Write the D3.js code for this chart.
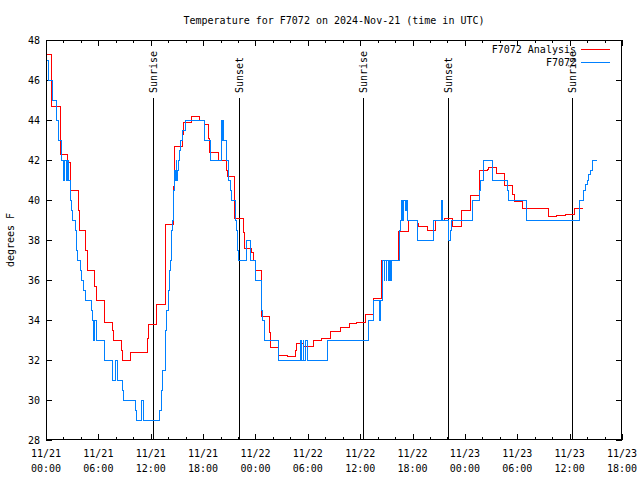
<!DOCTYPE html>
<html><head><meta charset="utf-8">
<script src="https://cdn.jsdelivr.net/npm/d3@7"></script>
<style>
body{margin:0;background:#fff;}
text{font-family:"DejaVu Sans Mono","Liberation Mono",monospace;font-size:10px;fill:#000;}
</style></head>
<body><svg id="c" width="640" height="480"></svg>
<script>
// hours since 2024-11-21 00:00 UTC
const analysisTimes = [0, 0.65, 1.68, 2.52, 2.83, 3.75, 3.82, 4.58, 4.70, 5.61, 5.73, 6.68, 7.64, 7.71, 8.67, 8.74, 9.66, 11.61, 11.72, 12.68, 13.69, 14.59, 14.70, 15.62, 15.73, 16.69, 17.61, 18.14, 18.64, 18.71, 19.74, 20.66, 20.77, 21.58, 22.61, 22.72, 23.57, 23.75, 24.00, 24.67, 25.63, 25.70, 26.66, 27.65, 28.57, 28.68, 29.48, 30.63, 31.59, 32.62, 33.69, 34.72, 35.60, 36.63, 37.58, 38.46, 40.37, 41.56, 42.55, 42.70, 43.69, 44.65, 45.64, 46.58, 47.57, 48.60, 49.65, 50.57, 50.73, 51.64, 52.51, 53.51, 53.63, 54.58, 57.63, 58.55, 59.58, 60.53, 61.57];
const analysisValues = [47.3, 44.7, 42.3, 41.9, 40.5, 39.5, 38.5, 37.5, 36.5, 35.7, 35.0, 33.9, 33.5, 33.0, 32.5, 32.0, 32.4, 33.1, 33.8, 34.8, 38.8, 40.7, 42.7, 43.3, 43.9, 44.2, 44.0, 43.8, 43.1, 42.4, 42.0, 41.5, 41.2, 39.1, 38.4, 37.6, 37.4, 37.0, 36.5, 34.2, 33.4, 32.65, 32.25, 32.2, 32.5, 32.85, 32.7, 33.0, 33.1, 33.45, 33.65, 33.83, 33.9, 34.3, 35.1, 37.0, 38.45, 39.0, 38.85, 38.7, 38.5, 39.0, 39.1, 38.7, 39.5, 40.25, 41.5, 41.55, 41.65, 41.35, 40.75, 40.3, 39.95, 39.6, 39.2, 39.25, 39.3, 39.6, 39.6];
const obsTimes = [0.08, 0.23, 0.77, 1.23, 1.43, 1.83, 1.95, 2.12, 2.37, 2.49, 2.60, 2.75, 2.90, 3.01, 3.36, 3.44, 3.59, 3.98, 4.09, 4.24, 4.53, 5.21, 5.35, 5.42, 5.58, 5.81, 6.68, 7.60, 7.94, 8.17, 8.71, 8.86, 10.31, 10.39, 10.92, 11.15, 12.98, 13.18, 13.37, 13.64, 13.83, 14.01, 14.13, 14.29, 14.40, 14.47, 14.59, 14.70, 14.82, 14.90, 14.98, 15.05, 15.16, 15.27, 15.39, 15.66, 15.96, 18.14, 18.87, 20.09, 20.17, 20.25, 20.36, 20.63, 20.89, 21.16, 21.31, 21.74, 21.85, 21.97, 22.03, 23.00, 23.46, 24.06, 24.67, 24.78, 24.98, 26.66, 29.18, 29.33, 29.45, 29.56, 29.79, 29.94, 32.23, 36.93, 37.50, 38.24, 38.35, 38.58, 38.73, 38.84, 38.96, 39.07, 39.19, 39.34, 39.42, 39.57, 40.48, 40.64, 40.76, 40.85, 40.94, 41.14, 41.25, 41.42, 42.54, 44.38, 45.29, 45.45, 46.14, 46.37, 46.52, 48.85, 49.65, 49.81, 50.11, 51.14, 52.90, 53.02, 55.00, 61.11, 61.57, 61.80, 61.99, 62.19, 62.42, 62.65, 63.17];
const obsValues = [47, 46, 45, 44, 43, 42, 41, 42, 41, 42, 41, 40, 39.5, 39, 38.5, 37.5, 37, 36.5, 36, 35.5, 35, 34.5, 34, 33, 34, 33, 32, 31, 32, 31, 30.5, 30, 29.5, 29, 30, 29, 29.5, 30.5, 31.5, 33.5, 34.5, 35.5, 36.5, 37, 38.5, 39, 40.5, 41.5, 41, 42, 41, 41.5, 42, 42.5, 43, 43.5, 44, 43, 42, 44, 43, 44, 43, 42, 41, 40.5, 40, 39, 38.5, 37.5, 37, 38, 37, 36, 34.5, 34, 33, 32, 33, 32, 33, 32, 33, 32, 33, 34, 35, 34, 35, 37, 36, 37, 36, 37, 36, 37, 36, 37, 38.5, 39, 40, 39, 40, 39.5, 40, 39, 38, 39, 40, 39, 38, 38.5, 39, 40, 40.5, 41, 42, 41, 40.5, 40, 39, 40, 40.5, 40.8, 41, 41.3, 41.5, 42, 42];
const seriesNames = ["F7072 Analysis", "F7072"];
const eventTimes = [12.3, 22.15, 36.38, 46.1, 60.3];
const eventLabels = ["Sunrise", "Sunset", "Sunrise", "Sunset", "Sunrise"];
const xTickHours = [0, 6, 12, 18, 24, 30, 36, 42, 48, 54, 60, 66];
const xTickDates = ["11/21", "11/21", "11/21", "11/21", "11/22", "11/22", "11/22", "11/22", "11/23", "11/23", "11/23", "11/23"];
const xTickTimes = ["00:00", "06:00", "12:00", "18:00", "00:00", "06:00", "12:00", "18:00", "00:00", "06:00", "12:00", "18:00"];
const yTicks = [28, 30, 32, 34, 36, 38, 40, 42, 44, 46, 48];
const titleText = "Temperature for F7072 on 2024-Nov-21 (time in UTC)";
const yLabelText = "degrees F";

const L = 46, R = 622, T = 40, B = 440;
const svg = d3.select("#c");
const x = d3.scaleLinear().domain([0, 66]).range([L, R]);
const y = d3.scaleLinear().domain([28, 48]).range([B, T]);
const minorHours = d3.range(0, 67, 2).filter(h => h % 6 !== 0);

function styleAxis(g){ g.select(".domain").remove(); g.selectAll("line").attr("stroke","#000").attr("shape-rendering","crispEdges"); }

svg.append("g").attr("transform",`translate(0,${B})`).call(d3.axisBottom(x).tickValues(xTickHours).tickSize(-6).tickFormat("")).call(styleAxis);
svg.append("g").attr("transform",`translate(0,${B})`).call(d3.axisBottom(x).tickValues(minorHours).tickSize(-3).tickFormat("")).call(styleAxis);
svg.append("g").attr("transform",`translate(0,${T})`).call(d3.axisTop(x).tickValues(xTickHours).tickSize(-6).tickFormat("")).call(styleAxis);
svg.append("g").attr("transform",`translate(0,${T})`).call(d3.axisTop(x).tickValues(minorHours).tickSize(-3).tickFormat("")).call(styleAxis);
const yl = svg.append("g").attr("transform",`translate(${L},0)`).call(d3.axisLeft(y).tickValues(yTicks).tickSize(-6).tickPadding(6).tickFormat(d3.format("d")));
yl.call(styleAxis);
yl.selectAll("text").attr("font-family",null).attr("font-size",null).style("font-family",'"DejaVu Sans Mono",monospace').style("font-size","10px").attr("fill","#000");
svg.append("g").attr("transform",`translate(${R},0)`).call(d3.axisRight(y).tickValues(yTicks).tickSize(-6).tickFormat("")).call(styleAxis);

const xl = svg.append("g");
xTickHours.forEach((h,i)=>{
  const t = xl.append("text").attr("text-anchor","middle").attr("x", x(h));
  t.append("tspan").attr("x", x(h)).attr("y", 457).text(xTickDates[i]);
  t.append("tspan").attr("x", x(h)).attr("y", 472).text(xTickTimes[i]);
});

// events
eventTimes.forEach((h,i)=>{
  svg.append("line").attr("x1",Math.round(x(h))+0.5).attr("x2",Math.round(x(h))+0.5).attr("y1",98).attr("y2",B).attr("stroke","#000").attr("stroke-width",1);
  svg.append("text").attr("transform",`translate(${Math.round(x(h))+4},93) rotate(-90)`).attr("text-anchor","start").text(eventLabels[i]);
});

const line = d3.line().x(d=>x(d[0])).y(d=>y(d[1])).curve(d3.curveStepAfter);
const red = analysisTimes.map((t,i)=>[t, analysisValues[i]]);
const blue = obsTimes.map((t,i)=>[t, obsValues[i]]);
svg.append("path").datum(red).attr("d",line).attr("fill","none").attr("stroke","#ff0000").attr("stroke-width",1).attr("shape-rendering","crispEdges");
svg.append("path").datum(blue).attr("d",line).attr("fill","none").attr("stroke","#0080ff").attr("stroke-width",1).attr("shape-rendering","crispEdges");

// border
svg.append("rect").attr("x",L+0.5).attr("y",T+0.5).attr("width",R-L-1).attr("height",B-T-1).attr("fill","none").attr("stroke","#000").attr("shape-rendering","crispEdges");

// legend
const colors = ["#ff0000","#0080ff"];
seriesNames.forEach((n,i)=>{
  const ly = 49 + i*13;
  svg.append("text").attr("x",576).attr("y",ly+4).attr("text-anchor","end").text(n);
  svg.append("line").attr("x1",581).attr("x2",610).attr("y1",ly+0.5).attr("y2",ly+0.5).attr("stroke",colors[i]).attr("stroke-width",1);
});

svg.append("text").attr("x",334).attr("y",24).attr("text-anchor","middle").text(titleText);
svg.append("text").attr("transform","translate(14,240) rotate(-90)").attr("text-anchor","middle").text(yLabelText);
</script></body></html>
